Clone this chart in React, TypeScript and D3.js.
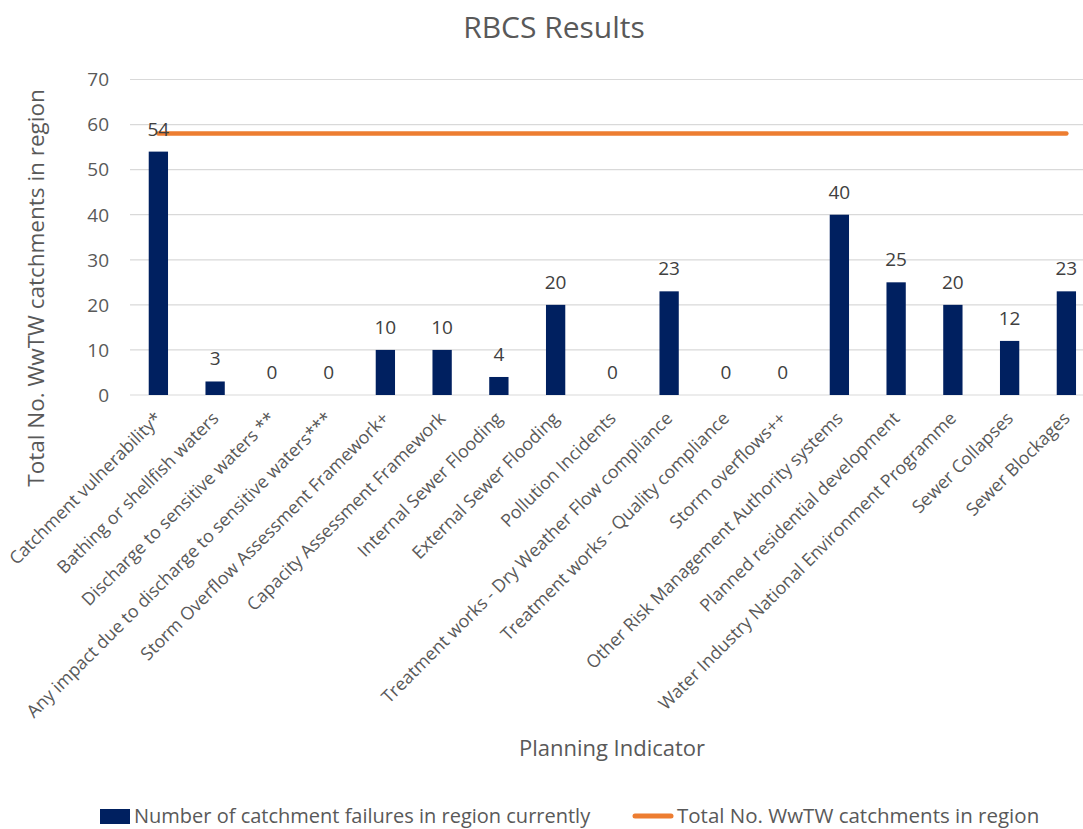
import React, { useRef, useEffect } from "react";
import * as d3 from "d3";

const categories = [
  "Catchment vulnerability*",
  "Bathing or shellfish waters",
  "Discharge to sensitive waters **",
  "Any impact due to discharge to sensitive waters***",
  "Storm Overflow Assessment Framework+",
  "Capacity Assessment Framework",
  "Internal Sewer Flooding",
  "External Sewer Flooding",
  "Pollution Incidents",
  "Treatment works - Dry Weather Flow compliance",
  "Treatment works - Quality compliance",
  "Storm overflows++",
  "Other Risk Management Authority systems",
  "Planned residential development",
  "Water Industry National Environment Programme",
  "Sewer Collapses",
  "Sewer Blockages",
];
const failures = [54, 3, 0, 0, 10, 10, 4, 20, 0, 23, 0, 0, 40, 25, 20, 12, 23];
const totalCatchments = categories.map(() => 58);
const yTicks = [0, 10, 20, 30, 40, 50, 60, 70];

const seriesNames = [
  "Number of catchment failures in region currently",
  "Total No. WwTW catchments in region",
];

const W = 1083;
const H = 829;
const FONT = "'Open Sans', sans-serif";
const BAR = "#002060";
const LINE = "#ED7D31";
const TEXT = "#595959";

const App = () => {
  const ref = useRef<SVGSVGElement>(null);

  useEffect(() => {
    const svg = d3.select(ref.current);
    svg.selectAll("*").remove();

    const left = 130;
    const step = 56.75;
    const x = d3
      .scaleBand()
      .domain(categories)
      .range([left, left + step * categories.length])
      .paddingInner(0.66)
      .paddingOuter(0.33);
    const y = d3.scaleLinear().domain([0, 70]).range([395, 79.5]);

    // gridlines
    svg
      .append("g")
      .selectAll("line")
      .data(yTicks)
      .enter()
      .append("line")
      .attr("x1", left)
      .attr("x2", W)
      .attr("y1", (d) => y(d))
      .attr("y2", (d) => y(d))
      .attr("stroke", "#D9D9D9")
      .attr("stroke-width", 1.2);

    // y tick labels
    svg
      .append("g")
      .selectAll("text")
      .data(yTicks)
      .enter()
      .append("text")
      .attr("x", 109)
      .attr("y", (d) => y(d))
      .attr("dy", "0.36em")
      .attr("text-anchor", "end")
      .style("font-family", FONT)
      .style("font-size", "19px")
      .style("fill", TEXT)
      .text((d) => d);

    const cx = (c: string) => (x(c) as number) + x.bandwidth() / 2;

    // bars
    svg
      .append("g")
      .selectAll("rect")
      .data(failures)
      .enter()
      .append("rect")
      .attr("x", (d, i) => x(categories[i]) as number)
      .attr("width", x.bandwidth())
      .attr("y", (d) => y(d))
      .attr("height", (d) => y(0) - y(d))
      .style("fill", BAR);

    // line
    const line = d3
      .line<number>()
      .x((d, i) => cx(categories[i]))
      .y((d) => y(d));
    svg
      .append("path")
      .datum(totalCatchments)
      .attr("d", line)
      .attr("fill", "none")
      .attr("stroke", LINE)
      .attr("stroke-width", 4.5)
      .attr("stroke-linecap", "round");

    // data labels
    svg
      .append("g")
      .selectAll("text")
      .data(failures)
      .enter()
      .append("text")
      .attr("x", (d, i) => cx(categories[i]))
      .attr("y", (d) => y(d) - 16)
      .attr("text-anchor", "middle")
      .style("font-family", FONT)
      .style("font-size", "19px")
      .style("fill", "#404040")
      .text((d) => d);

    // category labels
    svg
      .append("g")
      .selectAll("text")
      .data(categories)
      .enter()
      .append("text")
      .attr("transform", (d) => `translate(${cx(d) - 3},${412}) rotate(-45)`)
      .attr("dy", "0.6em")
      .attr("text-anchor", "end")
      .style("font-family", FONT)
      .style("font-size", "17.8px")
      .style("fill", TEXT)
      .text((d) => d);

    // title
    svg
      .append("text")
      .attr("x", 554)
      .attr("y", 38)
      .attr("text-anchor", "middle")
      .style("font-family", FONT)
      .style("font-size", "30px")
      .style("fill", TEXT)
      .text("RBCS Results");

    // axis titles
    svg
      .append("text")
      .attr("transform", "translate(44,288) rotate(-90)")
      .attr("text-anchor", "middle")
      .style("font-family", FONT)
      .style("font-size", "22.5px")
      .style("fill", TEXT)
      .text("Total No. WwTW catchments in region");

    svg
      .append("text")
      .attr("x", 612)
      .attr("y", 756)
      .attr("text-anchor", "middle")
      .style("font-family", FONT)
      .style("font-size", "22px")
      .style("fill", TEXT)
      .text("Planning Indicator");

    // legend
    const lg = svg.append("g");
    lg.append("rect")
      .attr("x", 100)
      .attr("y", 809)
      .attr("width", 30)
      .attr("height", 15)
      .style("fill", BAR);
    lg.append("text")
      .attr("x", 134)
      .attr("y", 823)
      .style("font-family", FONT)
      .style("font-size", "20px")
      .style("fill", TEXT)
      .text(seriesNames[0]);
    lg.append("line")
      .attr("x1", 635)
      .attr("x2", 671)
      .attr("y1", 816)
      .attr("y2", 816)
      .attr("stroke", LINE)
      .attr("stroke-width", 5)
      .attr("stroke-linecap", "round");
    lg.append("text")
      .attr("x", 677)
      .attr("y", 823)
      .style("font-family", FONT)
      .style("font-size", "20.5px")
      .style("fill", TEXT)
      .text(seriesNames[1]);
  }, []);

  return (
    <svg
      ref={ref}
      width={W}
      height={H}
      style={{ position: "absolute", left: 0, top: 0, background: "#fff" }}
    />
  );
};

export default App;
